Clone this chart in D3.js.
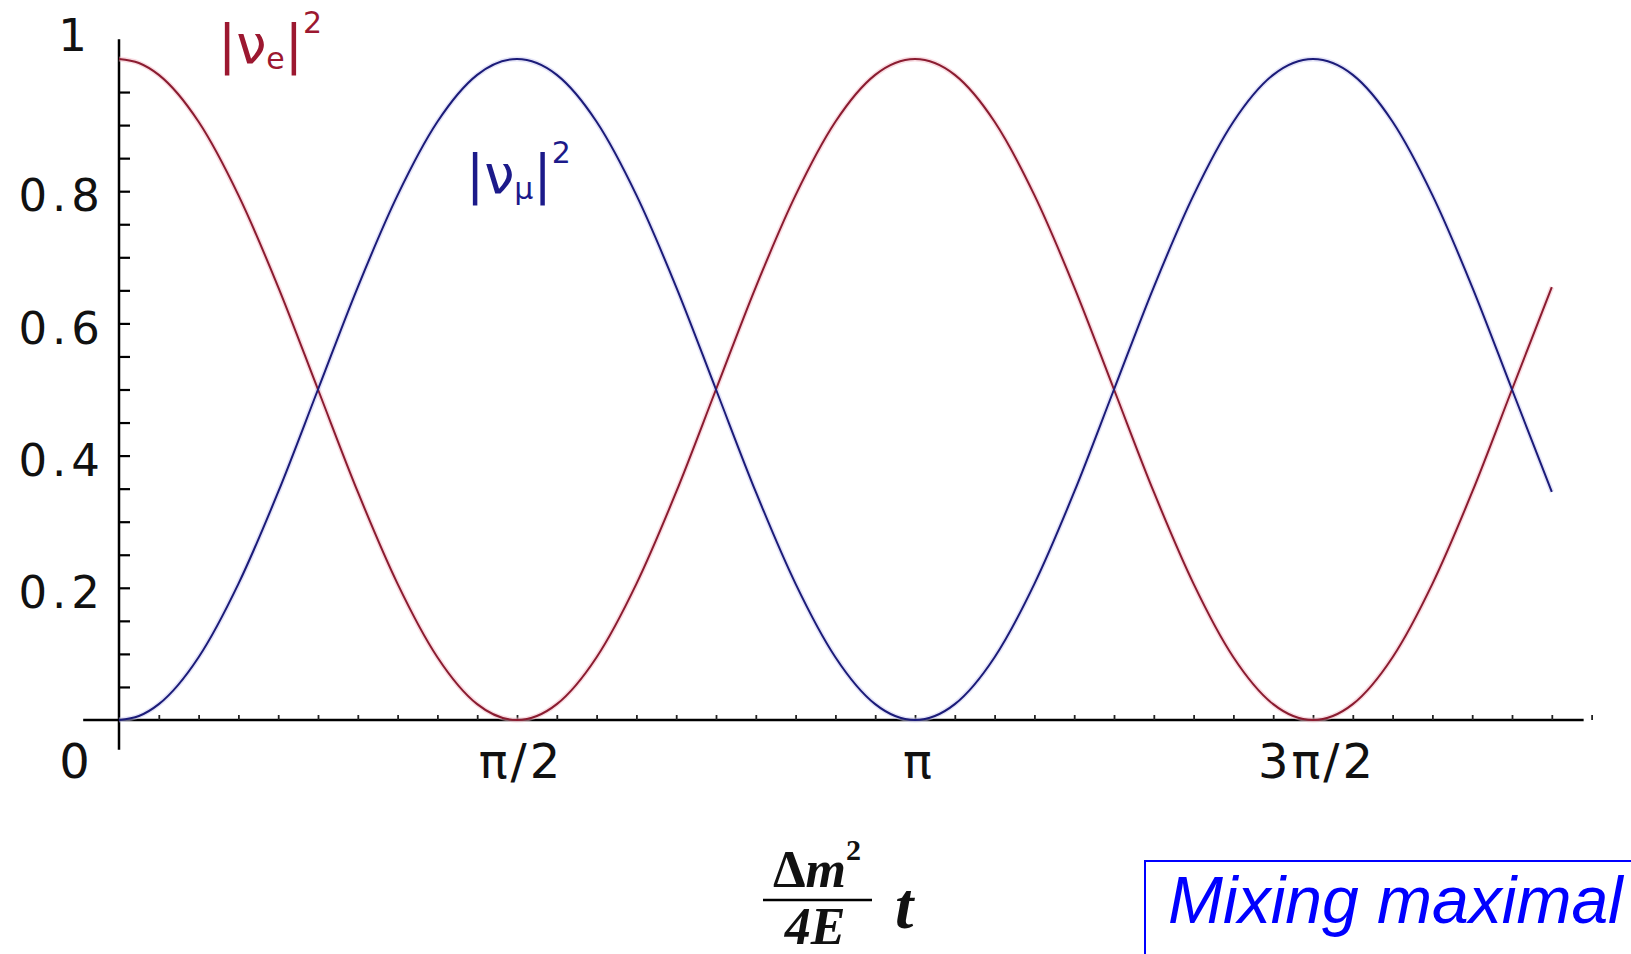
<!DOCTYPE html>
<html>
<head>
<meta charset="utf-8">
<title>Mixing maximal</title>
<style>
  html, body { margin: 0; padding: 0; background: #fff; overflow: hidden; }
  svg { display: block; }
</style>
</head>
<body>
<svg width="1631" height="954"></svg>
<script src="https://cdn.jsdelivr.net/npm/d3@7/dist/d3.min.js"></script>
<script>
var phase = [0, 0.025, 0.05, 0.1, 0.15, 0.2, 0.25, 0.3, 0.35, 0.4, 0.45,
             0.5, 0.55, 0.6, 0.65, 0.7, 0.75, 0.8, 0.85, 0.9, 0.95,
             1.0, 1.05, 1.1, 1.15, 1.2, 1.25, 1.3, 1.35, 1.4, 1.45,
             1.5, 1.55, 1.6, 1.65, 1.7, 1.75, 1.8];
// |nu_e|^2 (red)
var nuE = [1.000, 0.994, 0.976, 0.905, 0.794, 0.655, 0.500, 0.345, 0.206, 0.095, 0.024,
           0.000, 0.024, 0.095, 0.206, 0.345, 0.500, 0.655, 0.794, 0.905, 0.976,
           1.000, 0.976, 0.905, 0.794, 0.655, 0.500, 0.345, 0.206, 0.095, 0.024,
           0.000, 0.024, 0.095, 0.206, 0.345, 0.500, 0.655];
// |nu_mu|^2 (blue)
var nuMu = [0.000, 0.006, 0.024, 0.095, 0.206, 0.345, 0.500, 0.655, 0.794, 0.905, 0.976,
            1.000, 0.976, 0.905, 0.794, 0.655, 0.500, 0.345, 0.206, 0.095, 0.024,
            0.000, 0.024, 0.095, 0.206, 0.345, 0.500, 0.655, 0.794, 0.905, 0.976,
            1.000, 0.976, 0.905, 0.794, 0.655, 0.500, 0.345];

var yTickVals = [0.2, 0.4, 0.6, 0.8, 1];
var yTickText = ['0.2', '0.4', '0.6', '0.8', '1'];
var xTickVals = [0, 0.5, 1, 1.5];
var xTickText = ['0', '\u03c0/2', '\u03c0', '3\u03c0/2'];

var svg = d3.select('svg');

var x = d3.scaleLinear().domain([0, 1]).range([119, 915]);
var y = d3.scaleLinear().domain([0, 1]).range([720, 59]);

// minor ticks every 0.05 on y, every pi/20 on x
var yMinor = d3.range(1, 20).map(function(i){ return i * 0.05; });
var xMinor = d3.range(1, 38).map(function(i){ return i * 0.05; });

// axis lines
svg.append('line')
  .attr('x1', x(-0.045)).attr('x2', x(1.84))
  .attr('y1', y(0)).attr('y2', y(0))
  .attr('stroke', '#000').attr('stroke-width', 2.5);
svg.append('line')
  .attr('x1', x(0)).attr('x2', x(0))
  .attr('y1', y(1.03)).attr('y2', y(-0.045))
  .attr('stroke', '#000').attr('stroke-width', 2.5);

var yAx = svg.append('g')
  .attr('transform', 'translate(' + x(0) + ',0)')
  .call(d3.axisRight(y).tickValues(yMinor).tickSizeInner(11).tickSizeOuter(0).tickFormat(''));
yAx.select('.domain').remove();
yAx.selectAll('line').attr('stroke', '#000').attr('stroke-width', 2.2);

var xAx = svg.append('g')
  .attr('transform', 'translate(0,' + y(0) + ')')
  .call(d3.axisTop(x).tickValues(xMinor).tickSizeInner(5).tickSizeOuter(0).tickFormat(''));
xAx.select('.domain').remove();
xAx.selectAll('line').attr('stroke', '#222').attr('stroke-width', 1.8);

// y tick labels
svg.selectAll('.ylab')
  .data(yTickVals)
  .enter()
  .append('text')
  .attr('class', 'ylab')
  .text(function(d, i){ return yTickText[i]; })
  .attr('x', function(d){ return d == 1 ? x(0) - 27 : x(0) - 14; })
  .attr('y', function(d){ return d == 1 ? y(d) - 24 : y(d) + 4; })
  .attr('dy', '0.36em')
  .attr('text-anchor', 'end')
  .attr('font-family', 'DejaVu Sans, sans-serif')
  .attr('font-size', '45px')
  .attr('letter-spacing', '5px')
  .attr('fill', '#111');

// x tick labels
svg.selectAll('.xlab')
  .data(xTickVals)
  .enter()
  .append('text')
  .attr('class', 'xlab')
  .text(function(d, i){ return xTickText[i]; })
  .attr('x', function(d){ return d == 0 ? x(d) - 43 : x(d) + 4; })
  .attr('y', 778)
  .attr('text-anchor', 'middle')
  .attr('font-family', 'DejaVu Sans, sans-serif')
  .attr('font-size', '48px')
  .attr('letter-spacing', '3px')
  .attr('fill', '#111');

// curves
var pts = phase.map(function(p, i){ return {p: p, e: nuE[i], m: nuMu[i]}; });
var lineE = d3.line().x(function(d){ return x(d.p); }).y(function(d){ return y(d.e); }).curve(d3.curveMonotoneX);
var lineM = d3.line().x(function(d){ return x(d.p); }).y(function(d){ return y(d.m); }).curve(d3.curveMonotoneX);

svg.append('path').datum(pts).attr('d', lineE)
  .attr('fill', 'none').attr('stroke', '#f4b9c6').attr('stroke-width', 5).attr('opacity', 0.5);
svg.append('path').datum(pts).attr('d', lineM)
  .attr('fill', 'none').attr('stroke', '#c9c9f2').attr('stroke-width', 5).attr('opacity', 0.5);
svg.append('path').datum(pts).attr('d', lineE)
  .attr('fill', 'none').attr('stroke', '#8a1c30').attr('stroke-width', 2);
svg.append('path').datum(pts).attr('d', lineM)
  .attr('fill', 'none').attr('stroke', '#1b1b78').attr('stroke-width', 2);

// curve labels
var le = svg.append('text')
  .attr('x', 218).attr('y', 63)
  .attr('font-family', 'DejaVu Sans, sans-serif')
  .attr('font-size', '54px')
  .attr('fill', '#9c1830');
le.append('tspan').text('|\u03bd');
le.append('tspan').text('e').attr('font-size', '30px').attr('dy', 6);
le.append('tspan').text('|').attr('dy', -6);
le.append('tspan').text('2').attr('font-size', '30px').attr('dy', -30);

var lm = svg.append('text')
  .attr('x', 466).attr('y', 193)
  .attr('font-family', 'DejaVu Sans, sans-serif')
  .attr('font-size', '54px')
  .attr('fill', '#1c1a8a');
lm.append('tspan').text('|\u03bd');
lm.append('tspan').text('\u03bc').attr('font-size', '30px').attr('dy', 6);
lm.append('tspan').text('|').attr('dy', -6);
lm.append('tspan').text('2').attr('font-size', '30px').attr('dy', -30);

// x axis title: (Δm² / 4E) t
var fx = 817;
var num = svg.append('text')
  .attr('x', fx).attr('y', 887)
  .attr('text-anchor', 'middle')
  .attr('font-family', 'Liberation Serif, serif')
  .attr('font-style', 'italic')
  .attr('font-weight', 'bold')
  .attr('font-size', '52px')
  .attr('fill', '#111');
num.append('tspan').text('\u0394').attr('font-style', 'normal');
num.append('tspan').text('m');
num.append('tspan').text('2').attr('font-size', '30px').attr('dy', -27).attr('font-style', 'normal');
svg.append('line')
  .attr('x1', 763).attr('x2', 872).attr('y1', 900).attr('y2', 900)
  .attr('stroke', '#000').attr('stroke-width', 2.5);
svg.append('text')
  .attr('x', fx - 2).attr('y', 944)
  .attr('text-anchor', 'middle')
  .attr('font-family', 'Liberation Serif, serif')
  .attr('font-style', 'italic')
  .attr('font-weight', 'bold')
  .attr('font-size', '52px')
  .attr('fill', '#111')
  .text('4E');
svg.append('text')
  .attr('x', 895).attr('y', 928)
  .attr('font-family', 'Liberation Serif, serif')
  .attr('font-style', 'italic')
  .attr('font-weight', 'bold')
  .attr('font-size', '66px')
  .attr('fill', '#111')
  .text('t');

// note box
svg.append('rect')
  .attr('x', 1145).attr('y', 861)
  .attr('width', 520).attr('height', 120)
  .attr('fill', 'none').attr('stroke', '#0000ff').attr('stroke-width', 2);
svg.append('text')
  .attr('x', 1168).attr('y', 923)
  .attr('font-family', 'Liberation Sans, Arial, sans-serif')
  .attr('font-style', 'italic')
  .attr('font-size', '66px')
  .attr('fill', '#0000ff')
  .text('Mixing maximal');
</script>
</body>
</html>
